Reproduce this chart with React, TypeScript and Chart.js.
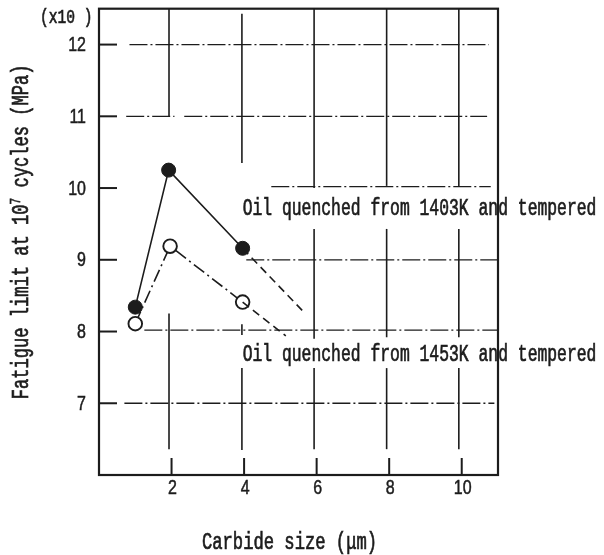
import React, { useEffect, useRef } from "react";
import { Chart, registerables } from "chart.js";

Chart.register(...registerables);

// ---------- data ----------
const xTicks = [2, 4, 6, 8, 10];
const xTickLabels = ["2", "4", "6", "8", "10"];
const yTicks = [7, 8, 9, 10, 11, 12];
const yTickLabels = ["7", "8", "9", "10", "11", "12"];

// Oil quenched from 1403K and tempered (filled circles)
const size1403 = [1.0, 1.92, 3.96];
const fatigue1403 = [8.34, 10.25, 9.16];
const size1403Ext = [3.96, 5.61];
const fatigue1403Ext = [9.16, 8.29];

// Oil quenched from 1453K and tempered (open circles)
const size1453 = [1.0, 1.96, 3.96];
const fatigue1453 = [8.11, 9.19, 8.41];
const size1453Ext = [3.96, 5.15];
const fatigue1453Ext = [8.41, 7.94];

const label1403 = "Oil quenched from 1403K and tempered";
const label1453 = "Oil quenched from 1453K and tempered";
const label1403Anchor = [3.96, 9.71];
const label1453Anchor = [3.96, 7.67];
const xTitle = "Carbide size (\u03bcm)";
const yTitleMain = "Fatigue limit at 10";
const yTitleSup = "7";
const yTitleRest = " cycles (MPa)";
const yUnit = "(x10 )";

// hand-drawn grid (data units)
const vGridX = [1.93, 3.94, 5.93, 7.93, 9.92];
const vGridSpans = [
  [[11.0, 12.5], [6.36, 8.25]],
  [[10.35, 12.43], [7.95, 8.1], [6.35, 7.49]],
  [[10.0, 12.5], [7.9, 9.43], [6.36, 7.49]],
  [[10.03, 12.5], [7.92, 9.43], [6.36, 7.49]],
  [[10.03, 12.5], [7.92, 9.43], [6.36, 7.49]],
];
const hGridY = [12, 11, 10.02, 9, 8.02, 7];
const hGridSpans = [
  [[0.84, 10.75]],
  [[0.75, 2.08], [2.35, 10.7]],
  [[4.75, 10.8]],
  [[4.06, 11]],
  [[1.25, 11]],
  [[0.7, 10.9]],
];

const INK = "#1c1c1c";

function squash(
  ctx: CanvasRenderingContext2D,
  text: string,
  x: number,
  y: number,
  font: string,
  sx: number,
  align: "left" | "center" | "right",
  bold = 0.7
) {
  ctx.save();
  ctx.font = font;
  ctx.textBaseline = "middle";
  ctx.textAlign = "left";
  const w = ctx.measureText(text).width * sx;
  const x0 = align === "left" ? x : align === "center" ? x - w / 2 : x - w;
  ctx.translate(x0, y);
  ctx.scale(sx, 1);
  ctx.fillText(text, 0, 0);
  if (bold > 0) {
    ctx.strokeStyle = ctx.fillStyle as string;
    ctx.lineWidth = bold;
    ctx.strokeText(text, 0, 0);
  }
  ctx.restore();
  return w;
}

const paperPlugin = {
  id: "paper",
  beforeDatasetsDraw(chart: any) {
    const ctx: CanvasRenderingContext2D = chart.ctx;
    const xs = chart.scales.x;
    const ys = chart.scales.y;
    const a = chart.chartArea;
    ctx.save();
    ctx.strokeStyle = INK;
    // horizontal dash-dot grid
    ctx.lineWidth = 1.3;
    ctx.setLineDash([18, 3, 2, 3]);
    hGridY.forEach((yv, i) => {
      const py = ys.getPixelForValue(yv);
      hGridSpans[i].forEach(([x0, x1]) => {
        ctx.beginPath();
        ctx.moveTo(xs.getPixelForValue(x0), py);
        ctx.lineTo(xs.getPixelForValue(x1), py);
        ctx.stroke();
      });
    });
    // vertical grid
    ctx.setLineDash([]);
    ctx.lineWidth = 1.6;
    vGridX.forEach((xv, i) => {
      const px = xs.getPixelForValue(xv);
      vGridSpans[i].forEach(([y0, y1]) => {
        ctx.beginPath();
        ctx.moveTo(px, ys.getPixelForValue(y0));
        ctx.lineTo(px, ys.getPixelForValue(y1));
        ctx.stroke();
      });
    });
    // ticks inside frame
    ctx.lineWidth = 2;
    yTicks.forEach((v) => {
      const py = ys.getPixelForValue(v);
      ctx.beginPath();
      ctx.moveTo(a.left, py);
      ctx.lineTo(a.left + 18, py);
      ctx.stroke();
    });
    xTicks.forEach((v) => {
      const px = xs.getPixelForValue(v);
      ctx.beginPath();
      ctx.moveTo(px, a.bottom);
      ctx.lineTo(px, a.bottom - 17);
      ctx.stroke();
    });
    // frame
    ctx.lineWidth = 2.2;
    ctx.strokeRect(a.left, a.top, a.right - a.left, a.bottom - a.top);
    ctx.restore();
  },
  afterDraw(chart: any) {
    const ctx: CanvasRenderingContext2D = chart.ctx;
    const xs = chart.scales.x;
    const ys = chart.scales.y;
    const a = chart.chartArea;
    ctx.save();
    ctx.fillStyle = INK;
    const tickFont = "20px 'Liberation Sans'";
    yTicks.forEach((v, i) => {
      squash(ctx, yTickLabels[i], a.left - 13, ys.getPixelForValue(v) + 1, tickFont, 0.8, "right", 0.5);
    });
    xTicks.forEach((v, i) => {
      squash(ctx, xTickLabels[i], xs.getPixelForValue(v) + 1, a.bottom + 13, tickFont, 0.8, "center", 0.5);
    });
    const mono = "23px 'Liberation Mono'";
    squash(ctx, yUnit, a.left - 59, a.top + 9, "20px 'Liberation Mono'", 0.73, "left");
    squash(
      ctx,
      label1403,
      xs.getPixelForValue(label1403Anchor[0]),
      ys.getPixelForValue(label1403Anchor[1]),
      mono,
      0.712,
      "left"
    );
    squash(
      ctx,
      label1453,
      xs.getPixelForValue(label1453Anchor[0]),
      ys.getPixelForValue(label1453Anchor[1]),
      mono,
      0.712,
      "left"
    );
    // x title
    squash(ctx, xTitle, (a.left + a.right) / 2 - 9, a.bottom + 68, mono, 0.746, "center");
    // y title (rotated)
    ctx.save();
    ctx.translate(a.left - 77, (a.top + a.bottom) / 2 - 10);
    ctx.rotate(-Math.PI / 2);
    ctx.font = mono;
    const sx = 0.743;
    const wMain = ctx.measureText(yTitleMain).width * sx;
    ctx.font = "15px 'Liberation Mono'";
    const wSup = ctx.measureText(yTitleSup).width * sx;
    ctx.font = mono;
    const wRest = ctx.measureText(yTitleRest).width * sx;
    const total = wMain + wSup + wRest;
    let x0 = -total / 2;
    squash(ctx, yTitleMain, x0, 0, mono, sx, "left");
    x0 += wMain;
    squash(ctx, yTitleSup, x0, -6, "15px 'Liberation Mono'", sx, "left");
    x0 += wSup;
    squash(ctx, yTitleRest, x0, 0, mono, sx, "left");
    ctx.restore();
    ctx.restore();
  },
};

function pts(xs: number[], ys: number[]) {
  return xs.map((x, i) => ({ x, y: ys[i] }));
}

export default function App() {
  const ref = useRef<HTMLCanvasElement | null>(null);
  useEffect(() => {
    if (!ref.current) return;
    const chart = new Chart(ref.current, {
      type: "scatter",
      data: {
        datasets: [
          {
            data: pts(size1403Ext, fatigue1403Ext),
            showLine: true,
            borderColor: INK,
            borderWidth: 1.6,
            borderDash: [8, 5],
            pointRadius: 0,
          },
          {
            data: pts(size1453Ext, fatigue1453Ext),
            showLine: true,
            borderColor: INK,
            borderWidth: 1.6,
            borderDash: [8, 5],
            pointRadius: 0,
          },
          {
            data: pts(size1403, fatigue1403),
            showLine: true,
            borderColor: INK,
            borderWidth: 1.6,
            pointRadius: 7,
            pointBackgroundColor: INK,
            pointBorderColor: INK,
            pointBorderWidth: 1,
          },
          {
            data: pts(size1453, fatigue1453),
            showLine: true,
            borderColor: INK,
            borderWidth: 1.6,
            borderDash: [13, 4, 2, 4],
            pointRadius: 6.8,
            pointBackgroundColor: "#ffffff",
            pointBorderColor: INK,
            pointBorderWidth: 1.9,
          },
        ],
      },
      options: {
        animation: false,
        responsive: false,
        devicePixelRatio: 1,
        layout: { padding: { left: 99, top: 8, right: 106, bottom: 80 } },
        plugins: { legend: { display: false }, tooltip: { enabled: false } },
        scales: {
          x: { type: "linear", min: 0, max: 11, display: false },
          y: { type: "linear", min: 6, max: 12.5, display: false },
        },
      },
      plugins: [paperPlugin],
    });
    return () => chart.destroy();
  }, []);
  return (
    <div style={{ position: "absolute", left: 0, top: 0, width: 604, height: 555, background: "#fff" }}>
      <canvas ref={ref} width={604} height={555} />
    </div>
  );
}
